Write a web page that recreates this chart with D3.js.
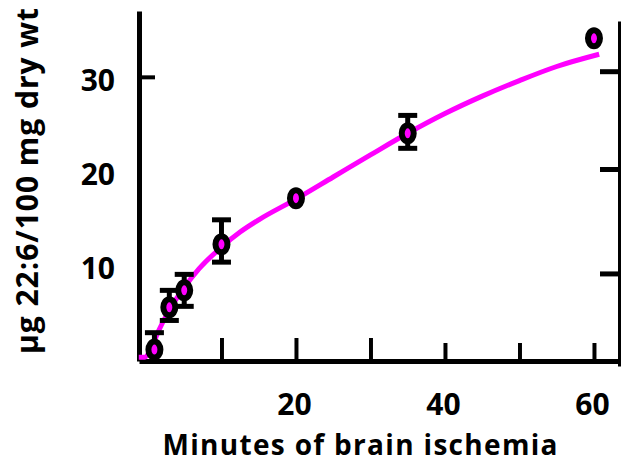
<!DOCTYPE html>
<html>
<head>
<meta charset="utf-8">
<script src="https://cdn.jsdelivr.net/npm/d3@7"></script>
<style>
  body { margin: 0; background: #fff; }
  svg { display: block; font-family: "Open Sans", Lato, sans-serif; font-weight: bold; }
</style>
</head>
<body>
<svg width="621" height="466"></svg>
<script>
// measured points (minutes, ug 22:6 / 100 mg dry wt)
const minutes = [1, 3, 5, 10, 20, 35, 60];
const values = [1.0, 5.5, 7.3, 12.2, 17.1, 24.0, 34.1];
const errHi = [2.8, 7.3, 9.0, 14.8, null, 25.9, null];
const errLo = [null, 4.1, 5.6, 10.3, null, 22.4, null];

// fitted curve
const curveX = [-1.1, -0.3, 0.5, 1.5, 3, 5, 7, 10, 12.5, 15, 20, 25, 30, 35, 40, 45, 50, 55, 60.7];
const curveY = [0.2, 0.2, 1.0, 2.9, 5.2, 7.6, 9.6, 11.9, 13.5, 14.8, 17.0, 19.35, 21.7, 24.0, 26.1, 27.95, 29.6, 31.1, 32.4];

const xTicks = [10, 20, 30, 40, 50, 60];
const xLabels = [20, 40, 60];
const yTicks = [10, 20, 30];
const rightTicks = [9.1, 20.2, 30.6];

const svg = d3.select("svg");

let x = d3.scaleLinear().domain([-1.07, 63.36]).range([139, 619]);
let y = d3.scaleLinear().domain([-0.21, 37.0]).range([361, 11]);
let yRight = d3.scaleLinear().domain([y.invert(366), y.invert(21)]).range([366, 21]);

// bottom axis, ticks pointing up into the plot
const xAxis = svg.append("g")
    .attr("transform", "translate(0,361)")
    .call(d3.axisBottom(x)
        .tickValues(xTicks)
        .tickSizeInner(-23)
        .tickSizeOuter(0)
        .tickPadding(33)
        .tickFormat(d => xLabels.includes(d) ? d : ""));
xAxis.select(".domain").attr("stroke-width", 5);
xAxis.selectAll(".tick line")
    .attr("stroke-width", 4)
    .attr("y2", d => d <= 30 ? -23 : -18);
xAxis.selectAll(".tick text")
    .attr("font-size", 30)
    .attr("font-family", "'Open Sans', sans-serif")
    .attr("font-weight", "bold")
    .attr("dx", -2);

// left axis
const yAxis = svg.append("g")
    .attr("transform", "translate(139,0)")
    .call(d3.axisLeft(y)
        .tickValues(yTicks)
        .tickSizeInner(-16)
        .tickSizeOuter(0)
        .tickPadding(24));
yAxis.select(".domain").attr("stroke-width", 5);
yAxis.selectAll(".tick line")
    .attr("stroke-width", 4)
    .attr("x1", 2)
    .attr("opacity", d => d === 30 ? 1 : 0);
yAxis.selectAll(".tick text")
    .attr("font-size", 30)
    .attr("font-family", "'Open Sans', sans-serif")
    .attr("font-weight", "bold")
    .attr("y", 4);

// right axis (unlabelled)
const rAxis = svg.append("g")
    .attr("transform", "translate(619,0)")
    .call(d3.axisLeft(yRight)
        .tickValues(rightTicks)
        .tickSizeInner(19)
        .tickSizeOuter(0)
        .tickFormat(""));
rAxis.select(".domain").attr("stroke-width", 3);
rAxis.selectAll(".tick line").attr("stroke-width", 5);

// curve
const line = d3.line()
    .x(d => x(d[0]))
    .y(d => y(d[1]))
    .curve(d3.curveMonotoneX);
svg.append("path")
    .datum(d3.zip(curveX, curveY))
    .attr("fill", "none")
    .attr("stroke", "#ff00ff")
    .attr("stroke-width", 5)
    .attr("d", line);

// error bars
const pts = minutes.map((m, i) => ({ m, v: values[i], hi: errHi[i], lo: errLo[i] }));
const eb = svg.append("g").attr("stroke", "#000");
pts.forEach(d => {
    [d.hi, d.lo].forEach(e => {
        if (e == null) return;
        eb.append("line").attr("x1", x(d.m)).attr("x2", x(d.m))
            .attr("y1", y(d.v)).attr("y2", y(e)).attr("stroke-width", 5);
        eb.append("line").attr("x1", x(d.m) - 9.5).attr("x2", x(d.m) + 9.5)
            .attr("y1", y(e)).attr("y2", y(e)).attr("stroke-width", 5);
    });
});

// markers
svg.selectAll("ellipse")
    .data(pts)
    .enter()
    .append("ellipse")
    .attr("cx", d => x(d.m))
    .attr("cy", d => y(d.v))
    .attr("rx", 6)
    .attr("ry", 8)
    .attr("fill", "#ff00ff")
    .attr("stroke", "#000")
    .attr("stroke-width", 6);

// axis titles
svg.append("text")
    .attr("x", 360)
    .attr("y", 455)
    .attr("text-anchor", "middle")
    .attr("font-size", 28)
    .attr("textLength", 395)
    .text("Minutes of brain ischemia");

svg.append("text")
    .attr("transform", "translate(38,181) rotate(-90)")
    .attr("text-anchor", "middle")
    .attr("font-size", 30)
    .attr("textLength", 346)
    .text("μg 22:6/100 mg dry wt");
</script>
</body>
</html>
